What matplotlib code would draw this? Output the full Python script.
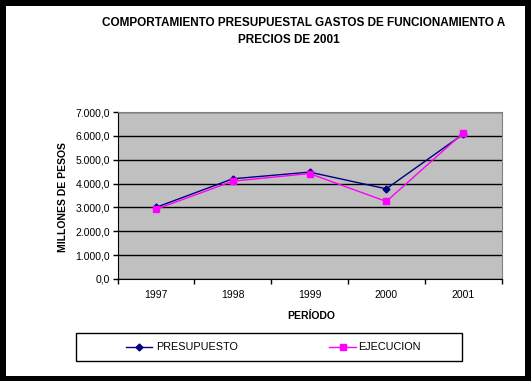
import matplotlib
matplotlib.use("Agg")
import matplotlib.pyplot as plt
from matplotlib.patches import Rectangle
from matplotlib.lines import Line2D
from matplotlib.ticker import FuncFormatter, FixedLocator
import numpy as np

years = ["1997", "1998", "1999", "2000", "2001"]
presupuesto = [3000, 4200, 4480, 3780, 6070]
ejecucion = [2920, 4100, 4420, 3250, 6120]
series_names = ["PRESUPUESTO", "EJECUCION"]
y_ticks = [0, 1000, 2000, 3000, 4000, 5000, 6000, 7000]

W, H = 531, 381
plt.rcParams["font.family"] = ["Liberation Sans", "DejaVu Sans"]


def fx(px):
    return px / W


def fy(py):
    return 1 - py / H


def es_fmt(v, pos):
    # Spanish style: 7.000,0
    s = f"{v:,.1f}"
    return s.replace(",", "X").replace(".", ",").replace("X", ".")


def main():
    fig = plt.figure(figsize=(W / 100, H / 100), dpi=100, facecolor="black")
    # white card inside the black frame
    fig.patches.append(Rectangle((fx(6), fy(376)), fx(525) - fx(6), fy(6) - fy(376),
                                 transform=fig.transFigure, facecolor="white",
                                 edgecolor="none", zorder=-5))

    fig.text(fx(304), fy(23), "COMPORTAMIENTO PRESUPUESTAL GASTOS DE FUNCIONAMIENTO A",
             ha="center", va="center", fontsize=8.5, fontweight="bold")
    fig.text(fx(289), fy(40), "PRECIOS DE 2001",
             ha="center", va="center", fontsize=8.5, fontweight="bold")

    left, right, top, bottom = 117.5, 501.5, 112, 279
    ax = fig.add_axes([fx(left), fy(bottom), fx(right - left), fy(top) - fy(bottom)])
    ax.set_facecolor("#c0c0c0")

    x = np.arange(len(years))
    ax.plot(x, presupuesto, color="#000080", lw=1, marker="D", ms=3.5,
            mec="#000080", mfc="#000080", zorder=3)
    ax.plot(x, ejecucion, color="#ff00ff", lw=1, marker="s", ms=5,
            mec="#ff00ff", mfc="#ff00ff", zorder=4)

    ax.set_xlim(-0.5, len(years) - 0.5)
    ax.set_ylim(0, 7000)
    ax.yaxis.set_major_locator(FixedLocator(y_ticks))
    ax.yaxis.set_major_formatter(FuncFormatter(es_fmt))
    ax.grid(axis="y", color="black", lw=1)
    ax.set_axisbelow(True)

    ax.set_xticks(np.arange(-0.5, len(years)), labels=[""] * (len(years) + 1))
    ax.set_xticks(x, labels=years, minor=True)
    ax.tick_params(axis="x", which="major", length=3.5, width=1, direction="out")
    ax.tick_params(axis="x", which="minor", length=0, pad=8, labelsize=7.5)
    ax.tick_params(axis="y", length=3.5, width=1, direction="out", labelsize=7.5, pad=2)

    for side in ["top", "right"]:
        ax.spines[side].set_color("#808080")
    for side in ["left", "bottom"]:
        ax.spines[side].set_color("black")

    fig.text(fx(63), fy(197), "MILLONES DE PESOS", rotation=90, ha="center",
             va="center", fontsize=7.5, fontweight="bold")
    fig.text(fx(311), fy(316), "PERÍODO", ha="center", va="center",
             fontsize=7.5, fontweight="bold")

    # legend box
    fig.patches.append(Rectangle((fx(76), fy(361)), fx(462) - fx(76), fy(333) - fy(361),
                                 transform=fig.transFigure, facecolor="white",
                                 edgecolor="black", lw=1, zorder=1))
    ly = fy(347)
    fig.add_artist(Line2D([fx(126), fx(152)], [ly, ly], transform=fig.transFigure,
                          color="#000080", lw=1, zorder=2))
    fig.add_artist(Line2D([fx(139)], [ly], transform=fig.transFigure, color="#000080",
                          marker="D", ms=3.5, lw=0, zorder=2))
    fig.text(fx(156), ly, series_names[0], ha="left", va="center", fontsize=7.8)
    fig.add_artist(Line2D([fx(329), fx(356)], [ly, ly], transform=fig.transFigure,
                          color="#ff00ff", lw=1, zorder=2))
    fig.add_artist(Line2D([fx(342.5)], [ly], transform=fig.transFigure, color="#ff00ff",
                          marker="s", ms=5, lw=0, zorder=2))
    fig.text(fx(358), ly, series_names[1], ha="left", va="center", fontsize=7.8)

    fig.savefig("out.png", dpi=100, facecolor="black")


if __name__ == "__main__":
    main()
